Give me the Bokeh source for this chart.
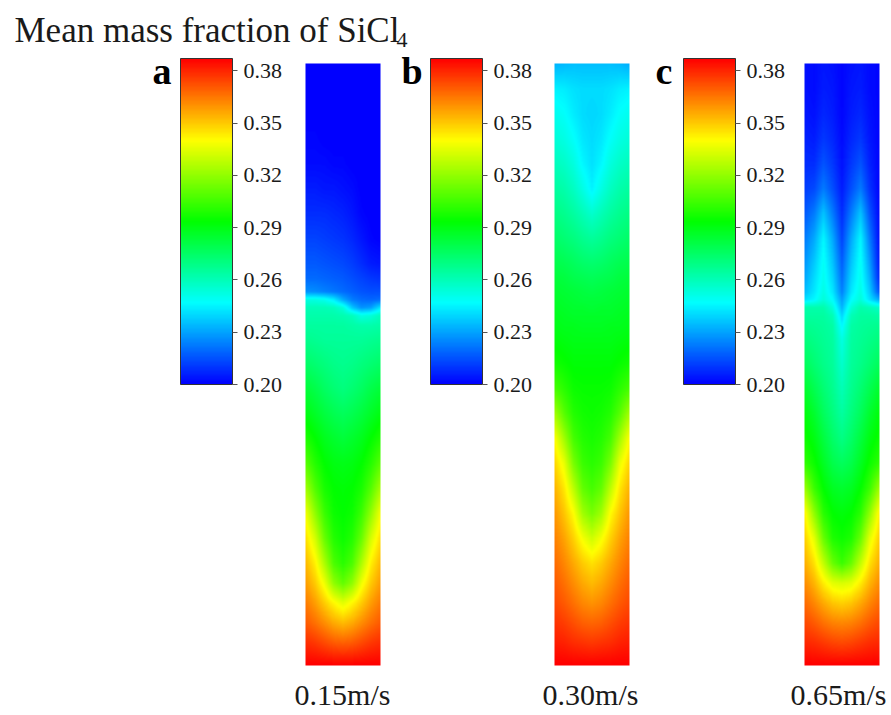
import numpy as np
from bokeh.plotting import figure
from bokeh.models import Range1d, LinearColorMapper, ColorBar, FixedTicker, PrintfTickFormatter
from bokeh.core.properties import value
from bokeh.embed import file_html
from bokeh.resources import INLINE

# ---------------- data ----------------
TITLE_MAIN = "Mean mass fraction of SiCl"
TITLE_SUB = "4"
PANEL_LETTERS = ["a", "b", "c"]
SPEED_LABELS = ["0.15m/s", "0.30m/s", "0.65m/s"]
TICKS = [0.20, 0.23, 0.26, 0.29, 0.32, 0.35, 0.38]
VMIN, VMAX = 0.20, 0.38

# radial sample positions (0 = left wall, 1 = right wall)
COLUMNS_X = [0.0, 0.125, 0.25, 0.375, 0.5, 0.625, 0.75, 0.875, 1.0]
# depth of each sampled row below the top of the strip (0 = top, 602 = bottom)
DEPTHS = [0, 25, 50, 75, 100, 125, 150, 175, 200, 215, 228, 236, 244, 252, 262,
          275, 300, 325, 350, 375, 400, 425, 450, 475, 500, 520, 540, 560, 580, 602]

FIELD_A = [
    [0.200, 0.200, 0.200, 0.200, 0.200, 0.200, 0.200, 0.200, 0.200],
    [0.200, 0.200, 0.200, 0.200, 0.200, 0.200, 0.200, 0.200, 0.200],
    [0.200, 0.200, 0.200, 0.200, 0.200, 0.200, 0.200, 0.200, 0.200],
    [0.201, 0.201, 0.200, 0.200, 0.200, 0.200, 0.200, 0.200, 0.200],
    [0.202, 0.202, 0.202, 0.201, 0.201, 0.200, 0.200, 0.200, 0.200],
    [0.205, 0.205, 0.204, 0.204, 0.203, 0.202, 0.200, 0.200, 0.200],
    [0.208, 0.208, 0.208, 0.207, 0.206, 0.204, 0.201, 0.200, 0.200],
    [0.212, 0.212, 0.211, 0.210, 0.209, 0.207, 0.204, 0.201, 0.200],
    [0.216, 0.216, 0.215, 0.214, 0.213, 0.211, 0.208, 0.205, 0.204],
    [0.219, 0.219, 0.218, 0.217, 0.216, 0.214, 0.212, 0.210, 0.209],
    [0.226, 0.225, 0.223, 0.221, 0.219, 0.217, 0.215, 0.214, 0.214],
    [0.250, 0.250, 0.248, 0.242, 0.230, 0.222, 0.219, 0.218, 0.219],
    [0.258, 0.258, 0.258, 0.257, 0.252, 0.235, 0.226, 0.228, 0.240],
    [0.260, 0.260, 0.260, 0.260, 0.259, 0.257, 0.250, 0.252, 0.257],
    [0.262, 0.262, 0.262, 0.262, 0.262, 0.261, 0.260, 0.260, 0.261],
    [0.265, 0.264, 0.263, 0.263, 0.263, 0.263, 0.263, 0.264, 0.265],
    [0.272, 0.270, 0.268, 0.266, 0.265, 0.266, 0.268, 0.270, 0.272],
    [0.280, 0.277, 0.273, 0.270, 0.268, 0.270, 0.273, 0.277, 0.280],
    [0.287, 0.283, 0.279, 0.276, 0.274, 0.276, 0.279, 0.283, 0.287],
    [0.295, 0.290, 0.285, 0.282, 0.280, 0.282, 0.285, 0.290, 0.295],
    [0.305, 0.296, 0.290, 0.287, 0.286, 0.287, 0.290, 0.296, 0.305],
    [0.318, 0.304, 0.294, 0.290, 0.289, 0.290, 0.294, 0.304, 0.318],
    [0.332, 0.315, 0.300, 0.292, 0.290, 0.292, 0.300, 0.315, 0.332],
    [0.340, 0.327, 0.308, 0.296, 0.292, 0.296, 0.308, 0.327, 0.340],
    [0.347, 0.337, 0.320, 0.303, 0.297, 0.303, 0.320, 0.337, 0.347],
    [0.352, 0.344, 0.332, 0.315, 0.307, 0.315, 0.332, 0.344, 0.352],
    [0.358, 0.352, 0.344, 0.336, 0.330, 0.336, 0.344, 0.352, 0.358],
    [0.364, 0.360, 0.355, 0.350, 0.347, 0.350, 0.355, 0.360, 0.364],
    [0.372, 0.370, 0.367, 0.364, 0.363, 0.364, 0.367, 0.370, 0.372],
    [0.380, 0.380, 0.380, 0.380, 0.380, 0.380, 0.380, 0.380, 0.380],
]

FIELD_B = [
    [0.232, 0.233, 0.234, 0.234, 0.234, 0.234, 0.234, 0.233, 0.231],
    [0.243, 0.242, 0.240, 0.239, 0.239, 0.239, 0.240, 0.242, 0.243],
    [0.248, 0.246, 0.242, 0.239, 0.238, 0.239, 0.242, 0.246, 0.248],
    [0.252, 0.250, 0.246, 0.241, 0.239, 0.241, 0.246, 0.250, 0.252],
    [0.257, 0.255, 0.251, 0.244, 0.240, 0.244, 0.251, 0.255, 0.257],
    [0.262, 0.260, 0.256, 0.250, 0.243, 0.250, 0.256, 0.260, 0.262],
    [0.267, 0.265, 0.262, 0.258, 0.254, 0.258, 0.262, 0.265, 0.267],
    [0.272, 0.270, 0.268, 0.265, 0.263, 0.265, 0.268, 0.270, 0.272],
    [0.277, 0.276, 0.274, 0.272, 0.271, 0.272, 0.274, 0.276, 0.277],
    [0.280, 0.279, 0.277, 0.276, 0.275, 0.276, 0.277, 0.279, 0.280],
    [0.282, 0.281, 0.280, 0.279, 0.278, 0.279, 0.280, 0.281, 0.282],
    [0.283, 0.282, 0.281, 0.280, 0.280, 0.280, 0.281, 0.282, 0.283],
    [0.284, 0.283, 0.282, 0.282, 0.281, 0.282, 0.282, 0.283, 0.284],
    [0.285, 0.284, 0.283, 0.283, 0.283, 0.283, 0.283, 0.284, 0.285],
    [0.286, 0.285, 0.285, 0.284, 0.284, 0.284, 0.285, 0.285, 0.286],
    [0.288, 0.287, 0.286, 0.286, 0.286, 0.286, 0.286, 0.287, 0.288],
    [0.293, 0.291, 0.289, 0.289, 0.289, 0.289, 0.289, 0.291, 0.293],
    [0.302, 0.297, 0.292, 0.291, 0.291, 0.291, 0.292, 0.297, 0.302],
    [0.318, 0.305, 0.296, 0.293, 0.292, 0.293, 0.296, 0.305, 0.318],
    [0.334, 0.318, 0.302, 0.296, 0.294, 0.296, 0.302, 0.318, 0.334],
    [0.342, 0.331, 0.311, 0.300, 0.297, 0.300, 0.311, 0.331, 0.342],
    [0.348, 0.339, 0.323, 0.307, 0.302, 0.307, 0.323, 0.339, 0.348],
    [0.353, 0.345, 0.335, 0.318, 0.311, 0.318, 0.335, 0.345, 0.353],
    [0.357, 0.351, 0.343, 0.333, 0.326, 0.333, 0.343, 0.351, 0.357],
    [0.361, 0.356, 0.350, 0.344, 0.340, 0.344, 0.350, 0.356, 0.361],
    [0.364, 0.360, 0.355, 0.350, 0.347, 0.350, 0.355, 0.360, 0.364],
    [0.367, 0.364, 0.360, 0.356, 0.354, 0.356, 0.360, 0.364, 0.367],
    [0.371, 0.369, 0.366, 0.363, 0.362, 0.363, 0.366, 0.369, 0.371],
    [0.375, 0.374, 0.372, 0.371, 0.370, 0.371, 0.372, 0.374, 0.375],
    [0.380, 0.380, 0.380, 0.380, 0.380, 0.380, 0.380, 0.380, 0.380],
]

FIELD_C = [
    [0.203, 0.202, 0.204, 0.203, 0.201, 0.203, 0.204, 0.202, 0.201],
    [0.203, 0.202, 0.205, 0.204, 0.201, 0.204, 0.205, 0.202, 0.201],
    [0.204, 0.203, 0.207, 0.205, 0.201, 0.205, 0.207, 0.203, 0.201],
    [0.206, 0.205, 0.210, 0.207, 0.202, 0.207, 0.210, 0.204, 0.201],
    [0.208, 0.208, 0.215, 0.210, 0.203, 0.210, 0.215, 0.206, 0.201],
    [0.211, 0.213, 0.222, 0.214, 0.205, 0.214, 0.222, 0.209, 0.201],
    [0.216, 0.222, 0.235, 0.222, 0.208, 0.222, 0.235, 0.215, 0.202],
    [0.222, 0.230, 0.244, 0.230, 0.212, 0.230, 0.244, 0.222, 0.203],
    [0.227, 0.236, 0.247, 0.235, 0.217, 0.235, 0.247, 0.228, 0.205],
    [0.230, 0.239, 0.248, 0.238, 0.220, 0.238, 0.248, 0.232, 0.208],
    [0.234, 0.241, 0.250, 0.241, 0.223, 0.241, 0.250, 0.236, 0.215],
    [0.240, 0.244, 0.252, 0.245, 0.228, 0.245, 0.252, 0.240, 0.230],
    [0.260, 0.260, 0.260, 0.252, 0.232, 0.252, 0.260, 0.258, 0.255],
    [0.262, 0.262, 0.262, 0.258, 0.238, 0.258, 0.262, 0.262, 0.261],
    [0.265, 0.264, 0.263, 0.261, 0.244, 0.261, 0.263, 0.264, 0.265],
    [0.268, 0.266, 0.264, 0.262, 0.250, 0.262, 0.264, 0.266, 0.268],
    [0.274, 0.270, 0.266, 0.263, 0.254, 0.263, 0.266, 0.270, 0.274],
    [0.282, 0.276, 0.270, 0.265, 0.258, 0.265, 0.270, 0.276, 0.282],
    [0.288, 0.282, 0.274, 0.268, 0.262, 0.268, 0.274, 0.282, 0.288],
    [0.292, 0.287, 0.279, 0.272, 0.267, 0.272, 0.279, 0.287, 0.292],
    [0.298, 0.292, 0.284, 0.277, 0.274, 0.277, 0.284, 0.292, 0.298],
    [0.317, 0.300, 0.290, 0.284, 0.282, 0.284, 0.290, 0.300, 0.317],
    [0.336, 0.315, 0.297, 0.290, 0.288, 0.290, 0.297, 0.315, 0.336],
    [0.343, 0.330, 0.308, 0.295, 0.292, 0.295, 0.308, 0.330, 0.343],
    [0.349, 0.340, 0.324, 0.308, 0.300, 0.308, 0.324, 0.340, 0.349],
    [0.355, 0.348, 0.338, 0.330, 0.328, 0.330, 0.338, 0.348, 0.355],
    [0.361, 0.356, 0.350, 0.345, 0.343, 0.345, 0.350, 0.356, 0.361],
    [0.367, 0.364, 0.360, 0.357, 0.356, 0.357, 0.360, 0.364, 0.367],
    [0.373, 0.372, 0.370, 0.368, 0.367, 0.368, 0.370, 0.372, 0.373],
    [0.380, 0.380, 0.380, 0.380, 0.380, 0.380, 0.380, 0.380, 0.380],
]

FIELDS = [FIELD_A, FIELD_B, FIELD_C]

# ---------------- layout (screen px) ----------------
W, H = 890, 714
STRIP_LEFT = [305, 554, 804]
STRIP_W = 75
STRIP_TOP = 63
STRIP_H = 602
BAR_LEFT = [180, 430, 683]
BAR_W, BAR_H = 52, 326
BAR_BOTTOM = 384
LETTER_X = [152, 401, 655]
SPEED_X = [342, 590, 838]

# colour map blue -> cyan -> green -> yellow -> red
def make_palette(n=256):
    anchors = np.array([[0, 0, 255], [0, 255, 255], [0, 255, 0], [255, 255, 0], [255, 0, 0]], float)
    t = np.linspace(0, 1, n)
    pos = np.linspace(0, 1, len(anchors))
    cols = np.stack([np.interp(t, pos, anchors[:, k]) for k in range(3)], axis=1)
    return ["#%02x%02x%02x" % tuple(int(round(c)) for c in row) for row in cols]

PALETTE = make_palette()
field_mapper = LinearColorMapper(palette=PALETTE, low=VMIN, high=VMAX)
bar_mapper = LinearColorMapper(palette=PALETTE, low=VMIN, high=0.387)


def smooth_field(grid, nx, ny):
    g = np.array(grid)
    fd = np.linspace(DEPTHS[0], DEPTHS[-1], ny)
    cols = np.array([np.interp(fd, DEPTHS, g[:, j]) for j in range(g.shape[1])]).T
    fx = np.linspace(0, 1, nx)
    return np.array([np.interp(fx, COLUMNS_X, row) for row in cols])


p = figure(width=W, height=H, output_backend="svg", toolbar_location=None,
           x_range=Range1d(0, W), y_range=Range1d(-H, 0),
           min_border=0, outline_line_color=None)
p.axis.visible = False
p.grid.visible = False
p.background_fill_color = "white"
p.border_fill_color = "white"

SERIF = value("Liberation Serif")

for i in range(3):
    img = smooth_field(FIELDS[i], STRIP_W, STRIP_H)
    p.image(image=[np.flipud(img)], x=STRIP_LEFT[i], y=-(STRIP_TOP + STRIP_H),
            dw=STRIP_W, dh=STRIP_H, color_mapper=field_mapper)

    cb = ColorBar(color_mapper=bar_mapper, orientation="vertical",
                  location=(BAR_LEFT[i], H - BAR_BOTTOM),
                  width=BAR_W, height=BAR_H, padding=0, margin=0,
                  ticker=FixedTicker(ticks=TICKS),
                  formatter=PrintfTickFormatter(format="%.2f"),
                  major_tick_out=5, major_tick_in=0,
                  major_tick_line_color="#555555", major_tick_line_width=1,
                  minor_tick_line_color=None,
                  bar_line_color="#333333", bar_line_width=1,
                  label_standoff=6,
                  major_label_text_font="Liberation Serif",
                  major_label_text_font_size="22px",
                  major_label_text_color="#1a1a1a",
                  background_fill_alpha=0, border_line_color=None)
    p.add_layout(cb, "center")

# panel letters
p.text(x=LETTER_X, y=[-70] * 3, text=PANEL_LETTERS, text_font=SERIF,
       text_font_style="bold", text_font_size="38px", text_color="black",
       text_baseline="alphabetic", text_align="left")

# speed labels
p.text(x=SPEED_X, y=[-694] * 3, text=SPEED_LABELS, text_font=SERIF,
       text_font_size="30px", text_color="#1a1a1a",
       text_baseline="alphabetic", text_align="center")

# title with subscript
p.text(x=[14], y=[-30], text=[TITLE_MAIN], text_font=SERIF,
       text_font_size="35px", text_color="#1a1a1a",
       text_baseline="alphabetic", text_align="left")
p.text(x=[396], y=[-39], text=[TITLE_SUB], text_font=SERIF,
       text_font_size="22px", text_color="#1a1a1a",
       text_baseline="alphabetic", text_align="left")

open("out.html", "w").write(file_html(p, INLINE))
